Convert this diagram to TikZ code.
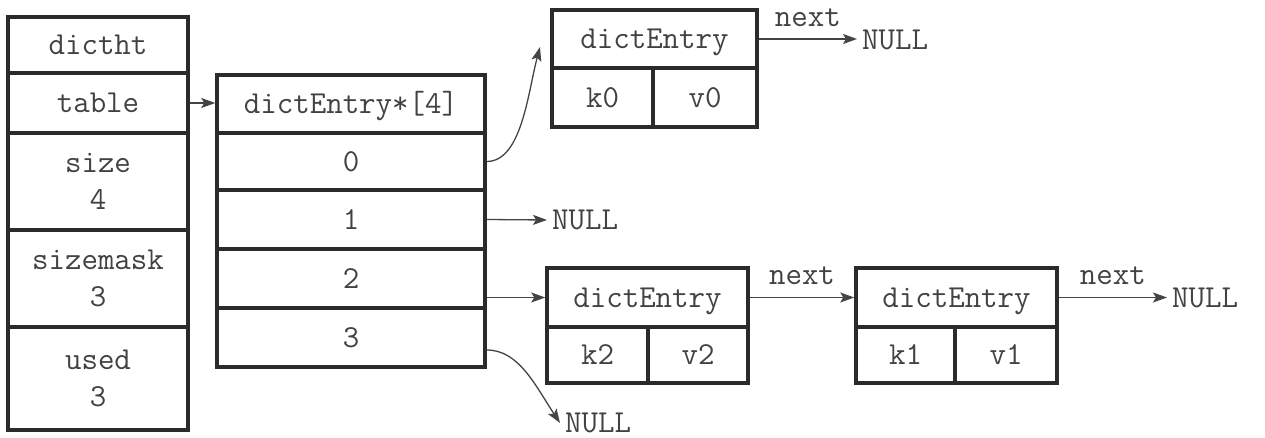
\documentclass[tikz,border=0pt]{standalone}
\usepackage{fontspec}
\usetikzlibrary{arrows.meta,calc}
\definecolor{boxc}{HTML}{2B2B2B}
\definecolor{txtc}{HTML}{424242}
\definecolor{arrc}{HTML}{444444}
\newcommand{\cellfont}{\ttfamily\fontsize{32}{37}\selectfont}
\tikzset{
  cell/.style={draw=boxc, line width=3.5pt, inner sep=0pt, align=center,
    font=\cellfont, text=txtc},
  one/.style={text height=19.5pt, text depth=0pt},
  lbl/.style={inner xsep=5pt, inner ysep=0pt, text height=19.5pt, text depth=0pt,
    font=\cellfont, text=txtc},
  nextlbl/.style={above, inner ysep=12pt, inner xsep=0pt, text depth=0pt,
    font=\cellfont, text=txtc},
  link/.style={draw=arrc, line width=1.3pt, -{Stealth[length=14pt,width=10pt,inset=3pt]}}
}
\begin{document}
\begin{tikzpicture}[x=1pt,y=-1pt]
\useasboundingbox (0,0) rectangle (1265,438);
% dictht
\node[cell,one,minimum width=180pt,minimum height=56pt] (dictht) at (98,45) {dictht};
\node[cell,one,minimum width=180pt,minimum height=60pt] (table) at (98,103) {table};
\node[cell,minimum width=180pt,minimum height=97pt] (size) at (98,181.5) {size\\4};
\node[cell,minimum width=180pt,minimum height=97pt] (sizemask) at (98,278.5) {sizemask\\3};
\node[cell,minimum width=180pt,minimum height=103pt] (used) at (98,378.5) {used\\3};
% array
\node[cell,one,minimum width=268pt,minimum height=58pt] (hdr) at (351,104) {dictEntry*[4]};
\node[cell,one,minimum width=268pt,minimum height=57pt] (r0) at (351,161.5) {0};
\node[cell,one,minimum width=268pt,minimum height=59pt] (r1) at (351,219.5) {1};
\node[cell,one,minimum width=268pt,minimum height=59pt] (r2) at (351,278.5) {2};
\node[cell,one,minimum width=268pt,minimum height=59pt] (r3) at (351,337.5) {3};
% entry 0
\node[cell,one,minimum width=205pt,minimum height=58pt] (e0h) at (654.5,39) {dictEntry};
\node[cell,one,minimum width=101pt,minimum height=59pt] (k0) at (602.5,97.5) {k0};
\node[cell,one,minimum width=104pt,minimum height=59pt] (v0) at (705,97.5) {v0};
% entry 2
\node[cell,one,minimum width=201pt,minimum height=59pt] (e2h) at (647.5,297.5) {dictEntry};
\node[cell,one,minimum width=101pt,minimum height=56pt] (k2) at (597.5,355) {k2};
\node[cell,one,minimum width=100pt,minimum height=56pt] (v2) at (698,355) {v2};
% entry 1
\node[cell,one,minimum width=201pt,minimum height=59pt] (e1h) at (956.5,297.5) {dictEntry};
\node[cell,one,minimum width=99pt,minimum height=56pt] (k1) at (905.5,355) {k1};
\node[cell,one,minimum width=102pt,minimum height=56pt] (v1) at (1006,355) {v1};
% NULLs
\node[lbl,anchor=west] (n0) at (857,40) {NULL};
\node[lbl,anchor=west] (n1) at (547,220) {NULL};
\node[lbl,anchor=west] (n3) at (560,423) {NULL};
\node[lbl,anchor=west] (n4) at (1167,297.5) {NULL};
\coordinate (c0) at (540,47);
% connectors
\draw[link] (table.east) -- (hdr.west |- table.east);
\draw[link] (r0.east) .. controls +(35,0) and +(-12,45) .. (c0);
\draw[link] (r1.east) -- (n1.west);
\draw[link] (r2.east |- e2h.west) -- (e2h.west);
\draw[link] ($(r3.east)+(0,12.5)$) .. controls +(32,0) and +(-25,-38) .. (n3.west);
\draw[link] (e0h.east) -- node[nextlbl] {next} (n0.west |- e0h.east);
\draw[link] (e2h.east) -- node[nextlbl] {next} (e1h.west);
\draw[link] (e1h.east) -- node[nextlbl] {next} (n4.west);
\end{tikzpicture}
\end{document}
